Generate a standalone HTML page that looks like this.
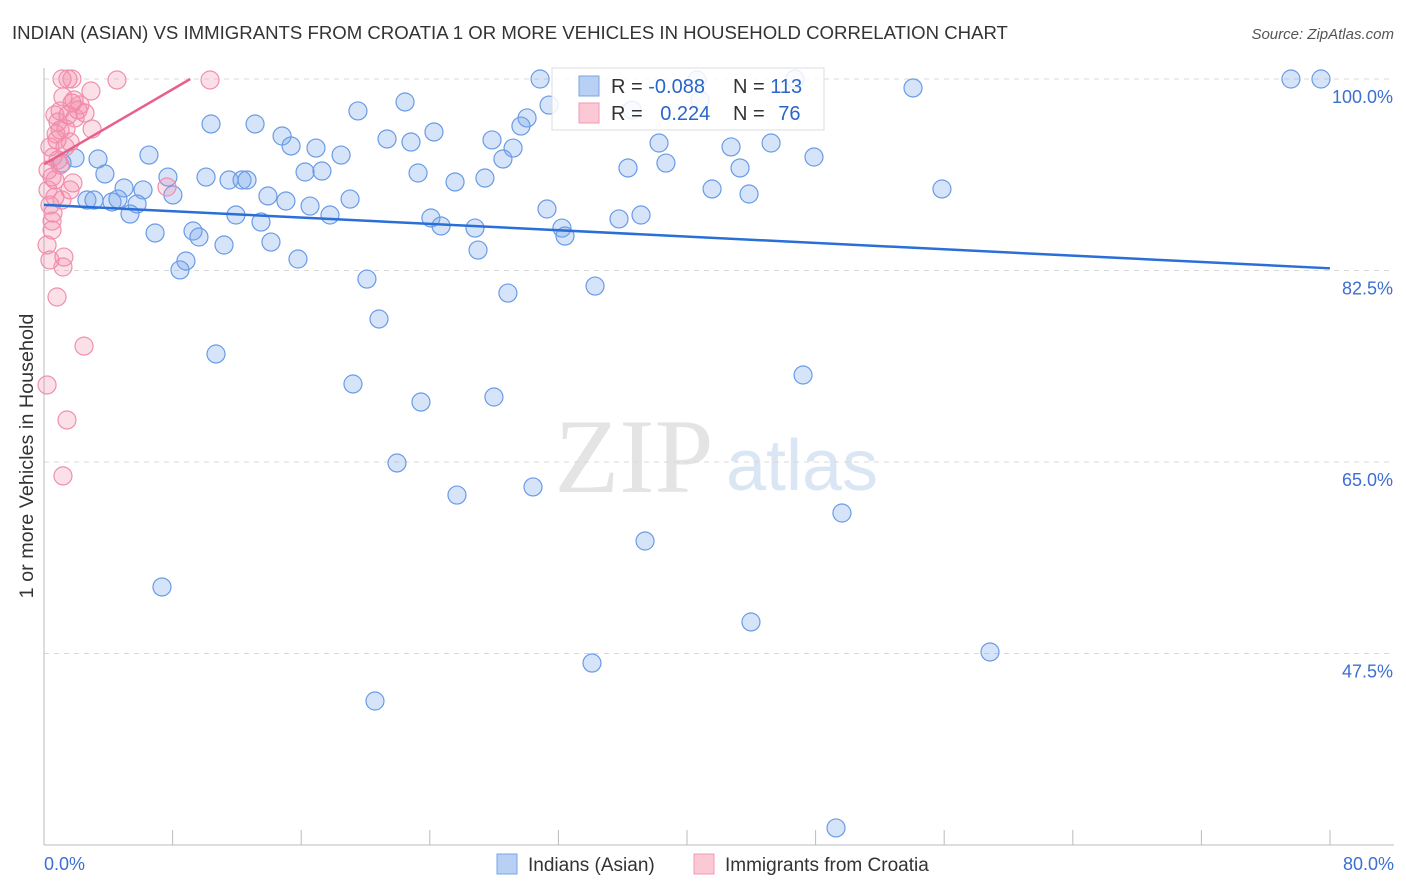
<!DOCTYPE html>
<html><head><meta charset="utf-8">
<style>
body{margin:0;background:#fff;font-family:"Liberation Sans",sans-serif;}
#wrap{position:relative;width:1406px;height:892px;overflow:hidden;}
</style></head>
<body>
<div id="wrap">
<svg id="svg" width="1406" height="892" xmlns="http://www.w3.org/2000/svg">
  <text x="12" y="39" font-size="18.6" fill="#333">INDIAN (ASIAN) VS IMMIGRANTS FROM CROATIA 1 OR MORE VEHICLES IN HOUSEHOLD CORRELATION CHART</text>
  <text x="1394" y="39" font-size="15" fill="#555" text-anchor="end" font-style="italic">Source: ZipAtlas.com</text>
  <text x="33" y="456" font-size="19.8" fill="#333" text-anchor="middle" transform="rotate(-90 33 456)">1 or more Vehicles in Household</text>
  <text x="634" y="492" font-size="106" fill="#e4e4e4" font-family="Liberation Serif" text-anchor="middle">ZIP</text>
  <text x="802" y="490" font-size="72" fill="#dbe6f5" text-anchor="middle">atlas</text>
  <g id="grid"></g>
  <g id="pts"></g>
  <g id="lines"></g>
  <g>
    <rect x="552" y="68" width="272" height="62" fill="#fff" fill-opacity="0.85" stroke="#ddd"/>
    <rect x="579" y="76" width="20" height="20" fill="#b7d0f3" stroke="#7aa6e6"/>
    <rect x="579" y="103" width="20" height="20" fill="#fbc8d6" stroke="#f29ab4"/>
    <text x="611" y="93" font-size="20" fill="#333">R = <tspan fill="#2a66c9">-0.088</tspan></text>
    <text x="733" y="93" font-size="20" fill="#333">N = <tspan fill="#2a66c9">113</tspan></text>
    <text x="611" y="120" font-size="20" fill="#333">R = <tspan fill="#2a66c9" dx="12">0.224</tspan></text>
    <text x="733" y="120" font-size="20" fill="#333">N = <tspan fill="#2a66c9" dx="8">76</tspan></text>
  </g>
  <g>
    <rect x="497" y="854" width="20" height="20" fill="#b7d0f3" stroke="#7aa6e6"/>
    <text x="528" y="871" font-size="19" fill="#333">Indians (Asian)</text>
    <rect x="694" y="854" width="20" height="20" fill="#fbc8d6" stroke="#f29ab4"/>
    <text x="725" y="871" font-size="19" fill="#333">Immigrants from Croatia</text>
  </g>
</svg>
</div>
<script>
const blueX=[30.86,46.72,77.57,79.44,54.06,22.46,19.53,31.42,30.05,10.39,13.13,24.26,14.81,21.34,22.83,27.87,29.67,15.37,16.92,29.18,38.26,45.23,42.74,6.53,18.48,28.55,47.90,3.36,1.93,1.12,3.79,7.71,10.08,11.51,12.32,12.63,16.24,17.29,23.27,25.57,27.43,36.33,38.69,43.30,41.56,43.86,55.86,4.98,6.16,8.02,2.67,3.11,4.23,4.60,5.79,13.93,15.05,16.55,19.04,31.29,5.35,11.94,13.50,17.79,24.07,24.70,26.81,32.22,32.41,35.77,37.14,6.91,9.27,9.64,11.20,14.12,15.80,27.00,8.83,8.46,20.09,28.86,34.28,20.84,10.70,19.22,27.99,23.45,47.22,21.96,25.69,30.42,49.64,37.39,7.34,43.98,34.09,58.85,20.59,49.27,40.62,36.58,40.81];
const blueY=[100,100,100,100,99.18,97.90,97.08,97.62,96.44,95.89,95.89,95.16,94.79,94.52,94.24,94.43,95.70,93.88,93.69,93.69,94.15,94.15,93.79,93.05,93.05,92.69,92.87,92.69,92.78,92.32,91.32,91.04,91.04,90.77,90.77,90.77,91.50,91.59,91.41,90.59,90.95,91.87,92.32,91.87,89.95,89.49,89.95,90.04,89.86,89.40,88.94,88.94,88.76,89.03,88.58,89.31,88.85,88.39,89.03,88.12,87.66,87.57,86.93,87.57,87.30,86.57,86.38,86.38,85.65,87.21,87.57,85.93,86.11,85.56,84.83,85.10,83.55,84.37,83.37,82.55,81.72,80.44,81.08,78.07,74.87,72.13,70.94,70.48,72.95,64.91,61.98,62.72,60.34,57.78,53.58,50.38,46.63,47.64,43.16,31.56,99.91,97.17,98.08];
const pinkX=[1.12,1.49,1.74,4.54,10.33,2.92,1.18,1.74,2.12,1.49,2.55,0.68,2.99,1.00,0.81,1.62,0.56,0.50,1.80,1.62,0.68,0.56,0.50,1.24,0.37,1.18,0.81,2.49,0.19,1.43,1.18,7.65,0.87,1.37,1.87,0.37,1.00,0.25,0.68,1.12,0.37,0.19,0.87,1.31,1.93,2.24,0.75,0.25,0.50,1.00];
const pinkY=[100,100,100,99.91,99.91,98.90,98.36,97.81,97.17,96.71,96.89,96.71,95.43,95.34,94.43,94.24,92.87,91.04,90.50,89.86,89.22,87.75,86.20,83.73,83.46,82.82,80.08,75.59,72.04,68.84,63.73,90.13,96.07,95.43,98.08,93.79,92.14,91.68,90.77,88.94,88.48,84.83,92.60,93.79,96.44,97.63,94.97,89.86,87.02,97.08];
const blueTrend=[88.5,82.7];
const pinkTrend=[92.2,100];
const pinkTrendEndX=9.1;
const yTicks=[100,82.5,65,47.5];
const yTickLabels=["100.0%","82.5%","65.0%","47.5%"];
const xTickLabels=["0.0%","80.0%"];

const NS="http://www.w3.org/2000/svg";
const X0=44,X1=1330,YTOP=79,PXPER=10.943;
const sx=v=>X0+(X1-X0)*v/80;
const sy=v=>YTOP+(100-v)*PXPER;
function mk(tag,attrs,parent){const e=document.createElementNS(NS,tag);for(const k in attrs)e.setAttribute(k,attrs[k]);parent.appendChild(e);return e;}
const grid=document.getElementById('grid');
yTicks.forEach((t,i)=>{
  const l=mk('line',{x1:44,x2:1394,y1:sy(t),y2:sy(t),stroke:'#d8d8d8','stroke-dasharray':'5,5'},grid);
  
  
  const tx=mk('text',{x:1393,y:sy(t)+24,'font-size':18,fill:'#3c6fd0','text-anchor':'end'},grid);
  tx.textContent=yTickLabels[i];
  
  
});
const ax=mk('line',{x1:44,x2:44,y1:68,y2:845,stroke:'#bbb'},grid);


const bx=mk('line',{x1:44,x2:1394,y1:845,y2:845,stroke:'#bbb'},grid);


for(let i=0;i<=10;i++){
  const tk=mk('line',{x1:sx(i*8),x2:sx(i*8),y1:830,y2:845,stroke:'#bbb'},grid);
  
  
}
const xl0=mk('text',{x:44,y:870,'font-size':18,fill:'#3c6fd0'},grid);
xl0.textContent=xTickLabels[0];


const xl1=mk('text',{x:1394,y:870,'font-size':18,fill:'#3c6fd0','text-anchor':'end'},grid);
xl1.textContent=xTickLabels[1];



const pts=document.getElementById('pts');
blueX.forEach((x,i)=>{
  const c=mk('circle',{cx:sx(x),cy:sy(blueY[i]),r:9,fill:'rgba(120,165,235,0.3)',stroke:'#6a9be6','stroke-width':1.2},pts);
  
  
});
pinkX.forEach((x,i)=>{
  const c=mk('circle',{cx:sx(x),cy:sy(pinkY[i]),r:9,fill:'rgba(245,130,165,0.25)',stroke:'#f08fae','stroke-width':1.2},pts);
  
  
});
const lines=document.getElementById('lines');
const bl=mk('line',{x1:sx(0),y1:sy(blueTrend[0]),x2:sx(80),y2:sy(blueTrend[1]),stroke:'#2a6fd8','stroke-width':2.5},lines);


const pl=mk('line',{x1:sx(0),y1:sy(pinkTrend[0]),x2:sx(pinkTrendEndX),y2:sy(pinkTrend[1]),stroke:'#e8608a','stroke-width':2.5},lines);


</script>
</body></html>
